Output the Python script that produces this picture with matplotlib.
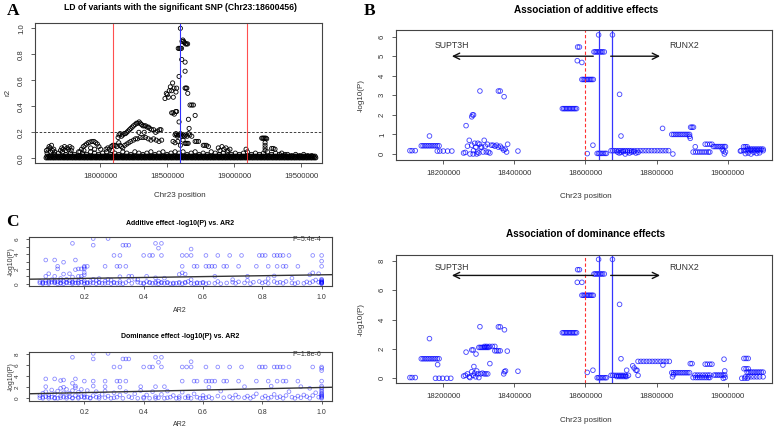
import matplotlib
matplotlib.use('Agg')
import matplotlib.pyplot as plt

plt.rcParams['font.family'] = ['Liberation Sans', 'DejaVu Sans']

W, H = 779, 429

# ---------------- Panel A: r2 with the significant SNP (positions in kb) ----------------
a_band_lo_kb = [17598, 17610, 17623, 17635, 17649, 17660, 17673, 17687, 17699, 17712, 17726, 17737,
                17751, 17762, 17775, 17789, 17800, 17814, 17825, 17839, 17850, 17863, 17877, 17888,
                17902, 17913, 17927, 17938, 17951, 17965, 17976, 17990, 18001, 18015, 18026, 18040,
                18051, 18064, 18078, 18089, 18103, 18114, 18128, 18139, 18152, 18166, 18177, 18191,
                18202, 18216, 18227, 18241, 18252, 18265, 18279, 18290, 18304, 18315, 18329, 18340,
                18353, 18367, 18378, 18392, 18403, 18417, 18428, 18442, 18453, 18466, 18480, 18491,
                18505, 18516, 18530, 18541, 18554, 18568, 18579, 18593, 18604, 18618, 18629, 18643,
                18654, 18667, 18681, 18692, 18706, 18717, 18731, 18742, 18755, 18769, 18780, 18794,
                18805, 18819, 18830, 18844, 18855, 18868, 18882, 18893, 18907, 18918, 18932, 18943,
                18956, 18970, 18981, 18995, 19006, 19020, 19031, 19045, 19056, 19069, 19083, 19094,
                19108, 19119, 19133, 19144, 19157, 19171, 19182, 19196, 19207, 19221, 19232, 19246,
                19257, 19270, 19284, 19295, 19309, 19320, 19334, 19345, 19358, 19372, 19383, 19397,
                19408, 19422, 19433, 19447, 19458, 19471, 19485, 19496, 19510, 19521, 19535, 19546,
                19559, 19573, 19584, 19598, 19610]
a_band_hi_kb = [17604, 17617, 17629, 17642, 17655, 17667, 17680, 17693, 17706, 17719, 17731, 17744,
                17757, 17769, 17782, 17795, 17807, 17820, 17832, 17845, 17857, 17870, 17883, 17895,
                17908, 17920, 17933, 17945, 17958, 17971, 17983, 17996, 18008, 18021, 18033, 18046,
                18058, 18071, 18084, 18096, 18109, 18121, 18134, 18146, 18159, 18172, 18184, 18197,
                18209, 18222, 18234, 18247, 18260, 18272, 18285, 18297, 18310, 18322, 18335, 18348,
                18360, 18373, 18385, 18398, 18410, 18423, 18436, 18448, 18461, 18473, 18486, 18498,
                18511, 18524, 18536, 18549, 18561, 18574, 18586, 18599, 18612, 18624, 18637, 18649,
                18662, 18674, 18687, 18700, 18712, 18725, 18737, 18750, 18762, 18775, 18788, 18800,
                18813, 18825, 18838, 18850, 18863, 18876, 18888, 18901, 18913, 18926, 18938, 18951,
                18964, 18976, 18989, 19001, 19014, 19026, 19039, 19052, 19064, 19077, 19089, 19102,
                19115, 19127, 19140, 19152, 19165, 19177, 19190, 19203, 19215, 19228, 19240, 19253,
                19265, 19278, 19291, 19303, 19316, 19328, 19341, 19353, 19366, 19379, 19391, 19404,
                19416, 19429, 19441, 19454, 19467, 19479, 19492, 19504, 19517, 19529, 19542, 19555,
                19567, 19580, 19592, 19605]
a_band_lo_r2 = 0.004
a_band_hi_r2 = 0.016

a_pts = [
    (17605, .04), (17630, .05), (17660, .03), (17690, .04), (17720, .05), (17745, .03), (17780, .04),
    (17810, .03), (17840, .05), (17870, .04), (17900, .03), (17930, .05), (17960, .04), (17990, .03),
    (18020, .04), (18050, .05), (18080, .03), (18110, .04), (18140, .03), (18170, .05), (18200, .04),
    (18230, .03), (18260, .05), (18290, .04), (18320, .03), (18350, .04), (18380, .05), (18410, .03),
    (18440, .04), (18470, .05), (18500, .03), (18530, .04), (18560, .05), (18590, .04), (18620, .05),
    (18650, .03), (18680, .04), (18710, .05), (18740, .03), (18770, .04), (18800, .03), (18830, .05),
    (18860, .04), (18890, .03), (18920, .04), (18950, .05), (18980, .03), (19010, .04), (19040, .03),
    (19070, .04), (19100, .05), (19130, .03), (19160, .04), (19190, .03), (19220, .04), (19250, .05),
    (19280, .03), (19310, .04), (19340, .03), (19370, .02), (19400, .03), (19430, .02), (19460, .03),
    (19490, .02), (19520, .03), (19550, .02), (19580, .02),
    (17600, .06), (17612, .07), (17620, .09), (17628, .08), (17638, .10), (17645, .06), (17655, .07),
    (17662, .05), (17705, .06), (17715, .08), (17725, .07), (17735, .09), (17745, .06), (17755, .08),
    (17765, .07), (17775, .09), (17785, .06), (17790, .08),
    (17850, .05), (17862, .07), (17875, .09), (17888, .10), (17900, .11), (17912, .12), (17925, .125),
    (17940, .13), (17955, .13), (17968, .12), (17980, .11), (17992, .09), (18005, .07), (17880, .06),
    (17930, .08), (17960, .07),
    (18045, .07), (18058, .08), (18070, .07), (18082, .09), (18095, .10), (18105, .10), (18115, .10),
    (18125, .09), (18090, .06),
    (18135, .16), (18142, .18), (18150, .19), (18160, .17), (18170, .18), (18180, .19), (18190, .19),
    (18200, .20), (18210, .21), (18220, .22), (18230, .23), (18240, .24), (18250, .25), (18262, .26),
    (18272, .27), (18282, .27), (18292, .28), (18300, .27),
    (18140, .12), (18150, .10), (18160, .09), (18170, .08), (18185, .10), (18200, .11), (18215, .12),
    (18230, .13), (18250, .14), (18265, .15), (18280, .15), (18300, .16), (18320, .16), (18340, .16),
    (18360, .15), (18380, .14), (18400, .15), (18420, .14), (18440, .13), (18460, .14),
    (18310, .26), (18320, .25), (18330, .25), (18340, .25), (18352, .24), (18362, .24), (18372, .23),
    (18385, .22), (18400, .22), (18415, .20), (18430, .21), (18445, .22), (18455, .22), (18290, .20),
    (18330, .20),
    (18485, .46), (18502, .49), (18517, .52), (18535, .52), (18552, .54), (18542, .58), (18567, .51),
    (18547, .47), (18495, .50), (18525, .55), (18510, .47),
    (18535, .35), (18545, .35), (18555, .34), (18565, .36), (18572, .36),
    (18584, .846), (18592, .846), (18600, .846), (18608, .846), (18600, 1.0),
    (18612, .90), (18618, .91), (18624, .90), (18630, .89), (18638, .88), (18646, .88), (18654, .88),
    (18610, .76), (18635, .74), (18635, .67), (18590, .63), (18572, .54), (18635, .54), (18642, .54),
    (18648, .54), (18655, .50), (18672, .41), (18685, .41), (18697, .41), (18710, .33), (18660, .30),
    (18590, .28), (18665, .23),
    (18560, .18), (18567, .19), (18572, .18), (18578, .17), (18585, .18), (18592, .18), (18600, .19),
    (18607, .18), (18614, .17), (18622, .18), (18630, .17), (18640, .18), (18650, .17), (18660, .19),
    (18670, .18), (18685, .17),
    (18635, .115), (18642, .115), (18650, .115), (18658, .115), (18710, .13), (18722, .13),
    (18735, .13), (18580, .13), (18600, .10), (18620, .14), (18560, .12), (18545, .13),
    (18771, .10), (18782, .10), (18795, .10), (18809, .09),
    (18883, .08), (18895, .06), (18910, .09), (18925, .07), (18940, .08), (18955, .06), (18970, .07),
    (19090, .07),
    (19207, .155), (19215, .155), (19222, .155), (19230, .155), (19238, .155), (19244, .15),
    (19232, .12), (19232, .10), (19232, .08), (19232, .06),
    (19281, .076), (19293, .076), (19306, .07), (19356, .04), (19380, .03),
]

a_sig_snp = 18600456
a_window = [18100456, 19100456]
a_r2_cut = 0.2

# ---------------- Panel B: additive / dominance -log10(P) (positions in kb) ----------------
b_add_pts = [
    (18106, 0.17), (18112, 0.17), (18121, 0.17), (18161, 0.92),
    (18257, 0.05), (18262, 0.08), (18268, 0.40), (18273, 0.70), (18275, 0.00), (18280, 0.45),
    (18284, 0.00), (18288, 0.55), (18291, 0.35), (18294, 0.00), (18297, 0.55), (18300, 0.05),
    (18302, 0.50), (18305, 0.35), (18308, 0.35), (18312, 0.10), (18315, 0.70), (18318, 0.40),
    (18321, 0.10), (18324, 0.50), (18327, 0.10), (18331, 0.05), (18335, 0.45), (18340, 0.45),
    (18345, 0.40), (18350, 0.45), (18355, 0.35), (18360, 0.40), (18365, 0.30), (18370, 0.20),
    (18374, 0.25), (18378, 0.10), (18381, 0.50), (18410, 0.15), (18285, 0.18), (18296, 0.10),
    (18264, 1.45), (18280, 1.90), (18282, 2.00), (18285, 2.00),
    (18303, 3.22), (18355, 3.22), (18360, 3.22), (18371, 2.93),
    (18578, 5.47), (18583, 5.47), (18577, 4.77), (18590, 4.68),
    (18605, 0.02), (18621, 0.45), (18637, 6.09), (18676, 6.09), (18696, 3.05), (18700, 0.92),
    (18690, 0.10), (18695, 0.05), (18700, 0.08), (18706, 0.12), (18712, 0.00), (18718, 0.10),
    (18724, 0.05), (18730, 0.10), (18736, 0.12), (18742, 0.05), (18748, 0.08),
    (18846, 0.00), (18817, 1.31), (18895, 0.80), (18893, 0.90), (18909, 0.37),
    (18988, 0.15), (18991, 0.00), (18994, 0.10), (18985, 0.25),
    (19036, 0.15), (19045, 0.37), (19050, 0.37), (19055, 0.37),
    (19050, 0.02), (19058, 0.05), (19066, 0.00), (19074, 0.08), (19082, 0.03), (19090, 0.06),
]
b_add_runs = [
    (0.42, [18138, 18143, 18148, 18153, 18158, 18163, 18168, 18173, 18178, 18183, 18188]),
    (0.15, [18183, 18190, 18200, 18212, 18224]),
    (2.32, [18535, 18539, 18543, 18547, 18551, 18555, 18559, 18563, 18567, 18571, 18575]),
    (3.81, [18590, 18594, 18598, 18602, 18606, 18610, 18614, 18618, 18622]),
    (5.22, [18624, 18628, 18632, 18636, 18640, 18644, 18648, 18653]),
    (0.03, [18633, 18637, 18641, 18645, 18650, 18655, 18659]),
    (0.17, [18672, 18677, 18682, 18688, 18694, 18700, 18706, 18712, 18718, 18724, 18730, 18738,
            18746, 18754, 18762, 18770, 18778, 18786, 18794, 18802, 18810, 18818, 18826, 18834]),
    (1.00, [18843, 18848, 18853, 18858, 18863, 18868, 18873, 18878, 18883, 18888, 18893]),
    (1.37, [18896, 18900, 18904]),
    (0.10, [18903, 18910, 18916, 18922, 18928, 18934, 18940, 18946, 18950]),
    (0.50, [18937, 18943, 18950, 18956]),
    (0.38, [18960, 18965, 18970, 18975, 18980, 18985, 18990, 18994]),
    (0.25, [19055, 19060, 19065, 19070, 19075, 19080, 19085, 19090, 19095, 19100]),
    (0.17, [19038, 19045, 19052, 19060, 19068, 19076, 19084, 19092, 19100]),
]

b_dom_pts = [
    (18106, 0.05), (18112, 0.05), (18121, 0.05), (18161, 2.70), (18184, 0.93),
    (18257, 0.15), (18262, 0.20), (18268, 0.30), (18273, 0.10), (18275, 0.05), (18280, 0.45),
    (18284, 0.20), (18288, 0.35), (18291, 0.10), (18294, 0.50), (18297, 0.30), (18300, 0.05),
    (18305, 0.30), (18310, 0.35), (18315, 0.30), (18320, 0.30), (18325, 0.30), (18286, 0.80),
    (18331, 1.00), (18370, 0.30), (18372, 0.45), (18375, 0.50), (18410, 0.48),
    (18264, 1.78), (18280, 1.93), (18284, 1.93), (18292, 1.65),
    (18303, 3.51), (18355, 3.50), (18360, 3.50), (18372, 3.30), (18380, 1.85),
    (18578, 7.39), (18583, 7.39), (18577, 6.53), (18590, 6.53),
    (18605, 0.40), (18621, 0.55), (18637, 8.09), (18676, 8.09), (18696, 5.03), (18700, 1.33),
    (18716, 0.55), (18733, 0.85), (18737, 0.70), (18742, 0.55), (18745, 0.55), (18748, 0.20),
    (18721, 0.20), (18818, 0.90), (18845, 0.10), (18848, 0.25), (18895, 1.00), (18900, 1.00),
    (18990, 1.30), (18992, 0.50), (18988, 0.00), (18993, 0.05),
    (19046, 1.35), (19052, 1.35), (19058, 1.35), (19046, 0.65), (19052, 0.65), (19058, 0.65),
    (19040, 0.00), (19048, 0.00), (19056, 0.00),
]
b_dom_runs = [
    (1.33, [18138, 18143, 18148, 18153, 18158, 18163, 18168, 18173, 18178, 18183, 18188]),
    (0.00, [18178, 18188, 18198, 18210, 18221]),
    (2.10, [18300, 18304, 18308, 18312, 18316, 18320, 18324, 18328]),
    (2.17, [18316, 18322, 18330, 18338, 18345]),
    (1.87, [18345, 18350, 18355, 18360]),
    (3.10, [18535, 18539, 18543, 18547, 18551, 18555, 18559, 18563, 18567, 18571, 18575]),
    (5.65, [18590, 18594, 18598, 18602, 18606, 18610, 18614, 18618, 18622]),
    (7.10, [18624, 18628, 18632, 18636, 18640, 18644, 18648, 18653]),
    (0.04, [18633, 18637, 18641, 18645, 18650, 18655, 18659]),
    (0.20, [18672, 18677, 18682, 18688, 18694, 18700, 18706, 18712]),
    (0.12, [18688, 18694, 18700, 18706, 18712, 18716]),
    (1.15, [18748, 18756, 18764, 18772, 18780, 18788, 18796, 18804, 18812, 18820, 18828, 18836]),
    (0.38, [18843, 18848, 18853, 18858, 18863, 18868, 18873, 18878, 18883, 18888, 18893]),
    (0.05, [18903, 18910, 18916, 18922, 18928, 18934, 18940, 18946, 18950]),
    (0.22, [18908, 18915, 18922, 18930, 18937, 18944, 18950]),
    (0.96, [18937, 18943, 18950, 18956]),
    (0.22, [18962, 18967, 18972, 18977, 18982, 18987, 18992]),
    (0.42, [19055, 19060, 19065, 19070, 19075, 19080, 19085, 19090, 19095, 19100]),
    (0.10, [19050, 19058, 19066, 19074, 19082, 19090, 19100]),
]

b_genes = ['SUPT3H', 'RUNX2']
b_gene_arrows_kb = [(18622, 18224), (18671, 18810)]
b_gene_text_kb = [18175, 18837]
b_sig_kb = 18600
b_blue_kb = [18637, 18676]

# ---------------- Panel C: -log10(P) against AR2 ----------------
c_add_pts = [
    (0.23, 6.10), (0.28, 6.10), (0.16, 5.45), (0.44, 5.45), (0.46, 5.45),
    (0.23, 5.20), (0.33, 5.20), (0.34, 5.20), (0.35, 5.20), (0.45, 4.80), (0.56, 4.68),
    (0.07, 3.20), (0.10, 3.20), (0.17, 3.20), (0.13, 2.90), (1.00, 3.05),
    (0.11, 2.00), (0.18, 2.00), (0.19, 2.00), (0.20, 2.00), (0.17, 1.90), (0.20, 2.20),
    (0.53, 1.47), (0.97, 1.47), (0.54, 1.30), (0.99, 1.35),
    (0.05, 0.10), (0.05, 0.30), (0.06, 0.00), (0.06, 0.20), (0.07, 0.45), (0.07, 0.10),
    (0.08, 0.30), (0.08, 0.00), (0.09, 0.20), (0.09, 0.55), (0.10, 0.10), (0.10, 0.35),
    (0.11, 0.00), (0.11, 0.25), (0.12, 0.45), (0.12, 0.10), (0.13, 0.30), (0.13, 0.00),
    (0.14, 0.20), (0.14, 0.60), (0.15, 0.10), (0.15, 0.40), (0.16, 0.00), (0.16, 0.25),
    (0.17, 0.50), (0.17, 0.10), (0.18, 0.30), (0.18, 0.05), (0.19, 0.20), (0.19, 0.65),
    (0.20, 0.00), (0.20, 0.40), (0.21, 0.15), (0.21, 0.05), (0.22, 0.30), (0.23, 0.10),
    (0.24, 0.00), (0.24, 0.45), (0.25, 0.20), (0.26, 0.05), (0.27, 0.35), (0.28, 0.10),
    (0.29, 0.00), (0.29, 0.50), (0.30, 0.20), (0.31, 0.05), (0.32, 0.30), (0.33, 0.00),
    (0.34, 0.15), (0.35, 0.40), (0.36, 0.05), (0.37, 0.60), (0.38, 0.20), (0.38, 0.55),
    (0.39, 0.10), (0.40, 0.00), (0.41, 0.30), (0.42, 0.10), (0.43, 0.05), (0.44, 0.20),
    (0.45, 0.00), (0.45, 0.35), (0.46, 0.10), (0.47, 0.05), (0.48, 0.20), (0.49, 0.00),
    (0.50, 0.10), (0.51, 0.05), (0.52, 0.20), (0.53, 0.00), (0.54, 0.10), (0.55, 0.30),
    (0.56, 0.05), (0.57, 0.00), (0.58, 0.15), (0.59, 0.05), (0.60, 0.20), (0.61, 0.00),
    (0.62, 0.10), (0.64, 0.05), (0.65, 0.30), (0.66, 0.00), (0.68, 0.10), (0.70, 0.20),
    (0.71, 0.05), (0.72, 0.25), (0.74, 0.10), (0.75, 0.45), (0.76, 0.00), (0.77, 0.20),
    (0.79, 0.30), (0.80, 0.10), (0.81, 0.25), (0.82, 0.05), (0.84, 0.30), (0.85, 0.10),
    (0.86, 0.20), (0.87, 0.05), (0.88, 0.30), (0.90, 0.10), (0.91, 0.00), (0.92, 0.15),
    (0.94, 0.05), (0.95, 0.25), (0.96, 0.10), (0.97, 0.30), (0.98, 0.50), (0.99, 0.20),
    (1.00, 0.00), (1.00, 0.10), (1.00, 0.20), (1.00, 0.30), (1.00, 0.40), (1.00, 0.50),
    (1.00, 0.60), (1.00, 0.05), (1.00, 0.15), (1.00, 0.25),
    (0.06, 0.10), (0.08, 0.15), (0.10, 0.20), (0.12, 0.05), (0.14, 0.10), (0.16, 0.15),
    (0.18, 0.10), (0.20, 0.15), (0.22, 0.05), (0.25, 0.10), (0.27, 0.05), (0.30, 0.10),
    (0.32, 0.05), (0.40, 0.10), (0.42, 0.20), (0.44, 0.05), (0.46, 0.20), (0.48, 0.10),
    (0.50, 0.00), (0.52, 0.05), (0.54, 0.20), (0.58, 0.05), (0.60, 0.10),
    (0.07, 1.00), (0.08, 1.35), (0.10, 1.00), (0.13, 1.30), (0.15, 1.35), (0.16, 0.90),
    (0.18, 1.00), (0.20, 1.20), (0.20, 1.50), (0.19, 1.00), (0.35, 1.00), (0.36, 1.00),
    (0.41, 1.00), (0.44, 0.80), (0.52, 1.25), (0.64, 1.00), (0.75, 1.00), (0.84, 1.05),
    (0.90, 0.75), (0.96, 1.20), (0.12, 0.70), (0.25, 0.70), (0.23, 0.60), (0.28, 0.60),
    (0.32, 0.95), (0.47, 0.75), (0.56, 0.55), (0.70, 0.55), (0.82, 0.70),
]
c_add_runs = [
    (3.82, [0.30, 0.32, 0.40, 0.42, 0.43, 0.46, 0.53, 0.545, 0.56, 0.61, 0.65, 0.69, 0.73,
            0.79, 0.80, 0.81, 0.84, 0.85, 0.86, 0.87, 0.89, 0.97, 1.00]),
    (2.35, [0.11, 0.20, 0.21, 0.27, 0.31, 0.32, 0.34, 0.53, 0.57, 0.58, 0.61, 0.62, 0.63,
            0.64, 0.67, 0.68, 0.72, 0.78, 0.82, 0.85, 0.87, 0.88, 0.92, 1.00]),
]

c_dom_pts = [
    (0.23, 8.10), (0.28, 8.10), (0.16, 7.40), (0.44, 7.40), (0.46, 7.40),
    (0.23, 7.10), (0.33, 7.10), (0.34, 7.10), (0.35, 7.10), (0.45, 6.50), (0.56, 6.60),
    (1.00, 5.00), (1.00, 5.40), (0.07, 3.50), (0.10, 3.50), (0.12, 3.20), (0.17, 3.50),
    (0.16, 2.70), (0.13, 3.30),
    (0.05, 0.10), (0.05, 0.50), (0.06, 0.00), (0.06, 0.90), (0.07, 0.30), (0.07, 1.20),
    (0.08, 0.60), (0.08, 0.00), (0.09, 0.20), (0.09, 1.50), (0.10, 0.10), (0.10, 0.80),
    (0.11, 0.00), (0.11, 1.30), (0.12, 0.40), (0.12, 1.80), (0.13, 0.20), (0.13, 1.00),
    (0.14, 0.00), (0.14, 1.60), (0.15, 0.30), (0.15, 0.90), (0.16, 0.10), (0.16, 1.40),
    (0.17, 0.50), (0.17, 1.90), (0.18, 0.00), (0.18, 1.10), (0.19, 0.30), (0.19, 1.60),
    (0.20, 0.10), (0.20, 0.70), (0.21, 0.20), (0.21, 1.40), (0.22, 0.00), (0.23, 0.50),
    (0.24, 0.20), (0.24, 1.20), (0.25, 0.00), (0.26, 0.70), (0.27, 0.10), (0.27, 1.30),
    (0.28, 0.40), (0.29, 0.00), (0.30, 1.00), (0.31, 0.20), (0.32, 0.60), (0.33, 0.00),
    (0.34, 1.20), (0.35, 0.30), (0.36, 0.10), (0.37, 0.80), (0.38, 0.00), (0.39, 1.40),
    (0.40, 0.20), (0.41, 0.60), (0.42, 0.00), (0.43, 1.20), (0.44, 0.30), (0.45, 0.10),
    (0.46, 0.70), (0.47, 0.00), (0.48, 1.30), (0.49, 0.20), (0.50, 0.50), (0.51, 0.00),
    (0.52, 0.30), (0.53, 1.10), (0.54, 0.10), (0.55, 0.40), (0.56, 0.00), (0.57, 0.80),
    (0.58, 0.20), (0.59, 0.00), (0.60, 0.50), (0.61, 0.10), (0.62, 0.30), (0.63, 0.00),
    (0.65, 0.40), (0.66, 1.30), (0.67, 0.10), (0.69, 0.30), (0.70, 0.00), (0.71, 0.60),
    (0.72, 0.20), (0.74, 0.10), (0.75, 0.40), (0.76, 0.00), (0.77, 0.30), (0.78, 0.80),
    (0.80, 0.10), (0.81, 0.40), (0.82, 0.00), (0.83, 0.20), (0.84, 0.70), (0.85, 0.10),
    (0.86, 0.30), (0.87, 0.00), (0.88, 0.50), (0.89, 1.20), (0.90, 0.20), (0.91, 0.00),
    (0.92, 0.40), (0.93, 0.10), (0.94, 0.60), (0.95, 0.30), (0.96, 0.00), (0.97, 0.50),
    (0.98, 1.00), (0.99, 0.20),
    (1.00, 0.00), (1.00, 0.15), (1.00, 0.30), (1.00, 0.45), (1.00, 0.60), (1.00, 0.80),
    (1.00, 1.00), (1.00, 1.30), (1.00, 1.60), (1.00, 1.90), (1.00, 2.20),
    (0.07, 2.10), (0.13, 2.00), (0.17, 2.20), (0.23, 2.20), (0.27, 2.10), (0.32, 2.00),
    (0.39, 2.10), (0.44, 2.10), (0.47, 2.10), (0.62, 2.00), (0.74, 2.10), (0.83, 2.20),
    (0.93, 2.10), (0.96, 1.80),
    (0.06, 0.20), (0.08, 0.30), (0.10, 0.00), (0.12, 0.10), (0.14, 0.30), (0.16, 0.00),
    (0.18, 0.20), (0.20, 0.30), (0.22, 0.10), (0.25, 0.30), (0.30, 0.10), (0.40, 0.00),
    (0.44, 0.00), (0.48, 0.10), (0.52, 0.00), (0.55, 0.10), (0.60, 0.00),
]
c_dom_runs = [
    (5.65, [0.30, 0.32, 0.40, 0.42, 0.43, 0.46, 0.53, 0.545, 0.56, 0.61, 0.65, 0.69, 0.73,
            0.79, 0.80, 0.81, 0.84, 0.85, 0.86, 0.87, 0.89, 0.97, 1.00]),
    (3.10, [0.20, 0.23, 0.27, 0.31, 0.32, 0.34, 0.53, 0.57, 0.58, 0.61, 0.62, 0.63,
            0.64, 0.67, 0.68, 0.72, 0.78, 0.82, 0.85, 0.87, 0.88, 0.92, 1.00]),
]

# fitted lines (intercept, slope) and their P values
c_add_fit = (0.60, 0.60)
c_dom_fit = (0.80, 1.15)
c_p_text = ['P=5.4e-4', 'P=1.8e-6']


def unpack(pts, runs=()):
    xs = [p[0] for p in pts]
    ys = [p[1] for p in pts]
    for level, xlist in runs:
        xs += list(xlist)
        ys += [level] * len(xlist)
    return xs, ys


fig = plt.figure(figsize=(W / 100, H / 100), dpi=100)


def r_axes(l, t, r, b, xlim, ylim, pad=4.2):
    ax = fig.add_axes([l / W, 1 - b / H, (r - l) / W, (b - t) / H])
    ax.set_xlim(*xlim)
    ax.set_ylim(*ylim)
    for s in ax.spines.values():
        s.set_color('#444444')
        s.set_linewidth(0.8)
    ax.tick_params(direction='out', length=3, width=0.6, color='#444444',
                   labelsize=5.6, labelcolor='#333333', pad=pad)
    return ax


def ftext(x, y, s, **kw):
    fig.text(x / W, 1 - y / H, s, ha='center', va='center', **kw)


def yticks(ax, ticks, labels, size=5.6):
    ax.set_yticks(ticks)
    ax.set_yticklabels(labels, rotation=90, va='center', fontsize=size)


# ---- A ----
axA = r_axes(35, 23, 322, 163, (17514900, 19656800), (-0.036, 1.041))
axA.scatter([k * 1000 for k in a_band_lo_kb], [a_band_lo_r2] * len(a_band_lo_kb),
            s=9, facecolors='none', edgecolors='black', linewidths=0.7)
axA.scatter([k * 1000 for k in a_band_hi_kb], [a_band_hi_r2] * len(a_band_hi_kb),
            s=9, facecolors='none', edgecolors='black', linewidths=0.7)
ax_x, ax_y = unpack(a_pts)
axA.scatter([k * 1000 for k in ax_x], ax_y, s=9, facecolors='none',
            edgecolors='black', linewidths=0.6)
for w in a_window:
    axA.axvline(w, color='#ff3030', lw=0.8, alpha=0.85)
axA.axvline(a_sig_snp, color='#3030ff', lw=0.8)
axA.axhline(a_r2_cut, color='#222222', lw=0.6, ls=(0, (3, 2)))
axA.set_xticks([18000000, 18500000, 19000000, 19500000])
axA.set_xticklabels(['18000000', '18500000', '19000000', '19500000'])
yticks(axA, [0, 0.2, 0.4, 0.6, 0.8, 1.0], ['0.0', '0.2', '0.4', '0.6', '0.8', '1.0'])
ftext(180, 7, 'LD of variants with the significant SNP (Chr23:18600456)',
      fontsize=6.2, fontweight='bold')
ftext(8, 92, 'r2', fontsize=5.8, rotation=90, color='#333333')
ftext(180, 195, 'Chr23 position', fontsize=5.8, color='#333333')


# ---- B ----
def panel_b(top, bottom, pts, runs, ylim, yt, arrow_y, text_y, title, title_y, xlab_y):
    ax = r_axes(396, top, 772, bottom, (18066800, 19125000), ylim)
    xs, ys = unpack(pts, runs)
    ax.scatter([k * 1000 for k in xs], ys, s=11, facecolors='none',
               edgecolors='#0000ff', linewidths=0.65, alpha=0.7)
    ax.axvline(b_sig_kb * 1000, color='#ff3030', lw=0.8, ls=(0, (3, 2)))
    for bl in b_blue_kb:
        ax.axvline(bl * 1000, color='#3535ff', lw=0.9)
    for (x0, x1), name, tx in zip(b_gene_arrows_kb, b_genes, b_gene_text_kb):
        ax.annotate('', xy=(x1 * 1000, arrow_y), xytext=(x0 * 1000, arrow_y),
                    arrowprops=dict(arrowstyle='->,head_length=0.45,head_width=0.22',
                                    lw=1.0, color='#111111', shrinkA=0, shrinkB=0))
        ax.text(tx * 1000, text_y, name, fontsize=6.3, color='#333333',
                ha='left', va='center')
    ax.set_xticks([18200000, 18400000, 18600000, 18800000, 19000000])
    ax.set_xticklabels(['18200000', '18400000', '18600000', '18800000', '19000000'])
    yticks(ax, yt, [str(v) for v in yt])
    ftext(586, title_y, title, fontsize=7.2, fontweight='bold')
    ftext(586, xlab_y, 'Chr23 position', fontsize=5.8, color='#333333')
    ftext(361, (top + bottom) / 2, '-log10(P)', fontsize=5.8, rotation=90, color='#333333')
    return ax


panel_b(30, 160, b_add_pts, b_add_runs, (-0.307, 6.34), [0, 1, 2, 3, 4, 5, 6],
        5.0, 5.55, 'Association of additive effects', 10, 196)
panel_b(255, 383, b_dom_pts, b_dom_runs, (-0.32, 8.39), [0, 2, 4, 6, 8],
        7.0, 7.55, 'Association of dominance effects', 234, 421)


# ---- C ----
def panel_c(top, bottom, pts, runs, ylim, yt, ylabels, fit, ptxt, ptxt_y, title, title_y, xlab_y):
    ax = r_axes(28.5, top, 332, bottom, (0.0118, 1.035), ylim, pad=3.6)
    xs, ys = unpack(pts, runs)
    ax.scatter(xs, ys, s=7, facecolors='none', edgecolors='#0000ff',
               linewidths=0.6, alpha=0.45)
    ax.axline((0, fit[0]), slope=fit[1], color='#333333', lw=1.0)
    ax.text(0.95, ptxt_y, ptxt, fontsize=5.0, color='#333333', ha='center', va='center')
    ax.set_xticks([0.2, 0.4, 0.6, 0.8, 1.0])
    ax.set_xticklabels(['0.2', '0.4', '0.6', '0.8', '1.0'], fontsize=5.0)
    yticks(ax, yt, ylabels, size=4.6)
    ax.tick_params(length=2.5)
    ftext(180, title_y, title, fontsize=5.0, fontweight='bold')
    ftext(180, xlab_y, 'AR2', fontsize=5.0, color='#333333')
    ftext(11, (top + bottom) / 2, '-log10(P)', fontsize=5.0, rotation=90, color='#333333')
    return ax


panel_c(237, 286, c_add_pts, c_add_runs, (-0.31, 6.31), [0, 1, 2, 3, 4, 5, 6],
        ['0', '', '2', '', '4', '', '6'], c_add_fit, c_p_text[0], 5.95,
        'Additive effect -log10(P) vs. AR2', 223, 311)
panel_c(351.7, 400.5, c_dom_pts, c_dom_runs, (-0.40, 8.41), [0, 2, 4, 6, 8],
        ['0', '2', '4', '6', '8'], c_dom_fit, c_p_text[1], 7.95,
        'Dominance effect -log10(P) vs. AR2', 337, 425)

# panel letters
for letter, (lx, ly) in zip('ABC', [(13, 11), (370, 11), (12, 222)]):
    ftext(lx, ly, letter, fontsize=12.5, fontweight='bold',
          family=['Liberation Serif', 'DejaVu Serif'])

fig.savefig('out.png', dpi=100)
